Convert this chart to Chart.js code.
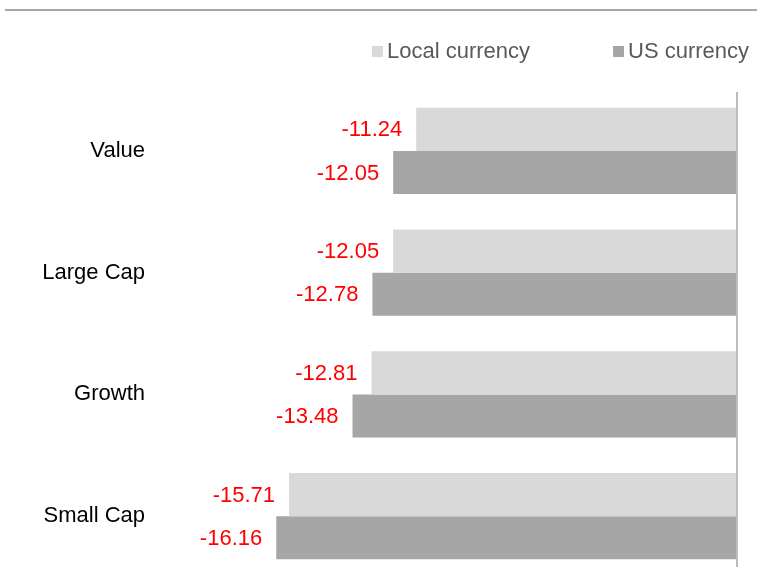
<!DOCTYPE html>
<html>
<head>
<meta charset="utf-8">
<script src="https://cdn.jsdelivr.net/npm/chart.js@4"></script>
<style>
    html, body { margin: 0; padding: 0; background: #fff; overflow: hidden; }
    #wrap { position: relative; width: 757px; height: 567px; overflow: hidden; }
    #topline { position: absolute; left: 5px; right: 0; top: 9px; border-top: 2px solid #a6a6a6; }
    #chart-box { position: absolute; left: 0; top: 0; width: 757px; height: 580px; }
    .legend { position: absolute; top: 38px; font: 22px "Liberation Sans", Arial, sans-serif; color: #595959; white-space: nowrap; }
    .legend span.box { display: inline-block; width: 11px; height: 11px; margin-right: 4px; vertical-align: 1px; }
</style>
</head>
<body>
<div id="wrap">
    <div id="topline"></div>
    <div id="chart-box"><canvas id="barChart" width="757" height="580"></canvas></div>
    <div class="legend" style="left:372px"><span class="box" style="background:#d9d9d9"></span>Local currency</div>
    <div class="legend" style="left:613px"><span class="box" style="background:#a6a6a6"></span>US currency</div>
</div>
<script>
const categories = ['Value', 'Large Cap', 'Growth', 'Small Cap'];
const localCurrency = [-11.24, -12.05, -12.81, -15.71];
const usCurrency = [-12.05, -12.78, -13.48, -16.16];

// red value labels to the left of each bar + the zero line
const barLabels = {
    id: 'barLabels',
    afterDatasetsDraw(chart) {
        const ctx = chart.ctx;
        const area = chart.chartArea;
        const x0 = chart.scales.x.getPixelForValue(0) + 1;
        ctx.save();
        ctx.strokeStyle = '#a6a6a6';
        ctx.lineWidth = 1.5;
        ctx.beginPath();
        ctx.moveTo(x0, area.top + 2);
        ctx.lineTo(x0, area.bottom);
        ctx.stroke();

        ctx.font = '22px "Liberation Sans", Arial, sans-serif';
        ctx.fillStyle = '#ff0000';
        ctx.textAlign = 'right';
        ctx.textBaseline = 'middle';
        chart.data.datasets.forEach((ds, i) => {
            chart.getDatasetMeta(i).data.forEach((bar, j) => {
                ctx.fillText(ds.data[j].toFixed(2), bar.x - 14, bar.y + 1);
            });
        });
        ctx.restore();
    }
};

new Chart(document.getElementById('barChart'), {
    type: 'bar',
    data: {
        labels: categories,
        datasets: [{
            label: 'Local currency',
            data: localCurrency,
            backgroundColor: '#d9d9d9',
            barPercentage: 1,
            categoryPercentage: 0.71
        }, {
            label: 'US currency',
            data: usCurrency,
            backgroundColor: '#a6a6a6',
            barPercentage: 1,
            categoryPercentage: 0.71
        }]
    },
    options: {
        indexAxis: 'y',
        responsive: false,
        animation: false,
        layout: { padding: { top: 90, right: 21, bottom: 3, left: 0 } },
        plugins: {
            legend: { display: false },
            tooltip: { enabled: false }
        },
        scales: {
            x: {
                display: false,
                min: -20,
                max: 0
            },
            y: {
                afterFit: scale => {
                    scale.width = 167;
                    scale.paddingTop = 0;
                    scale.paddingBottom = 0;
                },
                grid: { display: false, drawTicks: false },
                border: { display: false },
                ticks: {
                    padding: 22,
                    color: '#000',
                    font: { family: '"Liberation Sans", Arial, sans-serif', size: 22 }
                }
            }
        }
    },
    plugins: [barLabels]
});
</script>
</body>
</html>
